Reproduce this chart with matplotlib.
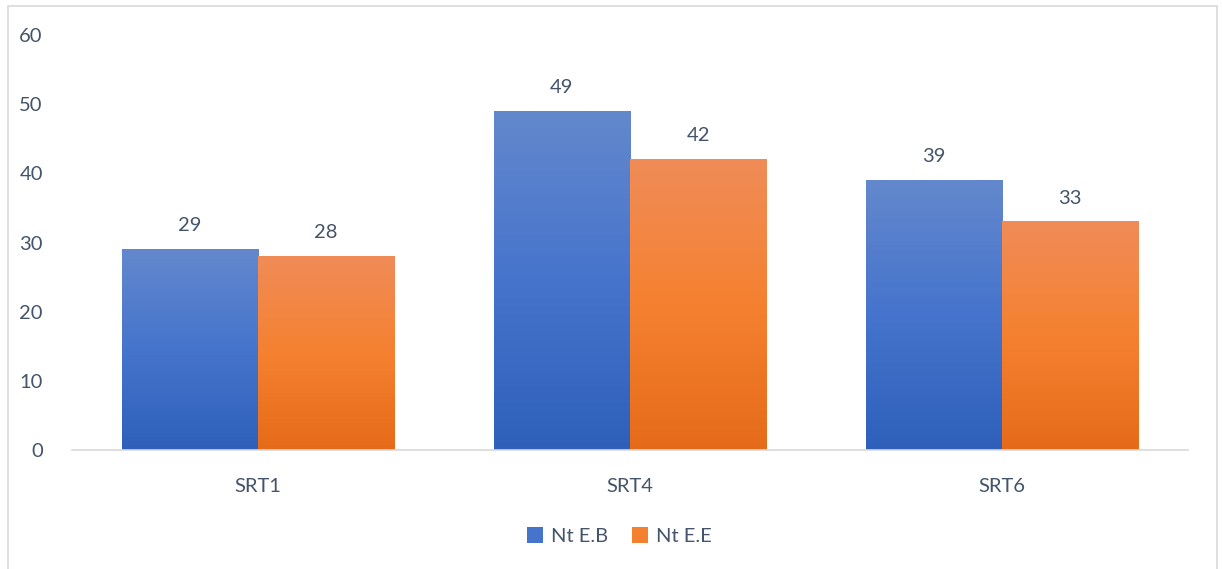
import numpy as np
import matplotlib.pyplot as plt
from matplotlib.colors import LinearSegmentedColormap
from matplotlib.patches import Rectangle, Patch

categories = ['SRT1', 'SRT4', 'SRT6']
series_names = ['Nt E.B', 'Nt E.E']
nt_eb = [29, 49, 39]
nt_ee = [28, 42, 33]
y_ticks = [0, 10, 20, 30, 40, 50, 60]

txt = '#44546A'
plt.rcParams['font.family'] = ['Lato', 'DejaVu Sans']

fig = plt.figure(figsize=(12.22, 5.69), dpi=100)
ax = fig.add_axes([72/1222, 119/569, 1116/1222, 415/569])

# Excel-like gradient fills (top light -> bottom dark)
grads = [LinearSegmentedColormap.from_list('b', ['#2E60BA', '#4674CC', '#6388CD']),
         LinearSegmentedColormap.from_list('o', ['#E56B1A', '#F58130', '#F08C58'])]

bw = 0.366
x = np.arange(len(categories))
for k, vals in enumerate([nt_eb, nt_ee]):
    for xi, v in zip(x, vals):
        x0 = xi - bw + k*bw
        grad = np.linspace(0, 1, 256).reshape(-1, 1)
        ax.imshow(grad, extent=[x0, x0 + bw, 0, v], origin='lower',
                  cmap=grads[k], aspect='auto', zorder=2)
        ax.text(x0 + bw/2, v + 3.4, str(v), ha='center', va='center',
                fontsize=14.5, color=txt)

ax.set_xlim(-0.5, 2.5)
ax.set_ylim(0, 60)
ax.set_xticks(x)
ax.set_xticklabels(categories)
ax.set_yticks(y_ticks)
ax.tick_params(axis='both', length=0, labelsize=14.5, labelcolor=txt)
ax.tick_params(axis='y', pad=21)
ax.tick_params(axis='x', pad=20)
for s in ['top', 'right', 'left']:
    ax.spines[s].set_visible(False)
ax.spines['bottom'].set_color('#D9D9D9')
ax.spines['bottom'].set_linewidth(1.2)
ax.spines['bottom'].set_zorder(3)

handles = [Patch(facecolor='#4674CC'), Patch(facecolor='#F58130')]
fig.legend(handles, series_names, loc='center', bbox_to_anchor=(0.507, 1 - 536/569),
           ncol=2, frameon=False, fontsize=14.5, labelcolor=txt,
           handlelength=0.8, handleheight=0.8, handletextpad=0.4, columnspacing=1.2)

fig.add_artist(Rectangle((8/1222, -0.05), 1209/1222, 1.05 - 6/569,
                         transform=fig.transFigure, fill=False,
                         edgecolor='#D9D9D9', linewidth=1.2))

fig.savefig('out.png', dpi=100)
